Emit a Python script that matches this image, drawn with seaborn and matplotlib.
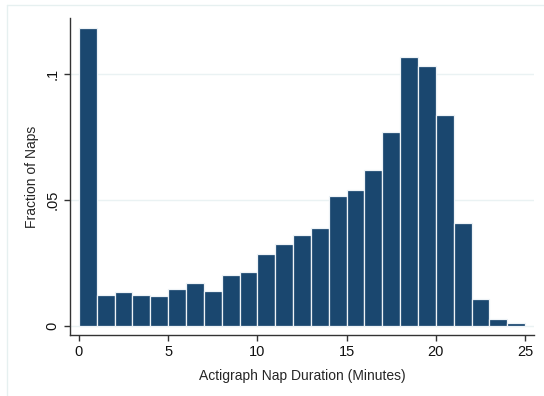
import numpy as np
import pandas as pd
import matplotlib
matplotlib.use("Agg")
import matplotlib.pyplot as plt
import seaborn as sns
from matplotlib.lines import Line2D

# histogram bins (minutes) and fraction of naps per bin
bin_start = list(range(25))
fraction = [0.1183, 0.0124, 0.0135, 0.0122, 0.0119, 0.0146, 0.0169, 0.0140,
            0.0202, 0.0213, 0.0286, 0.0324, 0.0362, 0.0389, 0.0517, 0.0538,
            0.0619, 0.0769, 0.1066, 0.1032, 0.0836, 0.0407, 0.0107, 0.0029,
            0.0011]
x_ticks = [0, 5, 10, 15, 20, 25]
y_ticks = [0, 0.05, 0.1]
y_ticklabels = ["0", ".05", ".1"]

df = pd.DataFrame({"minutes": bin_start, "fraction": fraction})

sns.set_style("white")
plt.rcParams["font.family"] = ["Liberation Sans", "DejaVu Sans"]

fig = plt.figure(figsize=(5.44, 3.96), dpi=100)
ax = fig.add_axes([0.1287, 0.154, 0.8529, 0.8005])

sns.histplot(data=df, x="minutes", weights="fraction",
             bins=list(range(26)),
             color="#1a476f", alpha=1, edgecolor="#eef3f7", linewidth=0.9,
             ax=ax, zorder=3)

ax.set_xlim(-0.5, 25.5)
ax.set_ylim(-0.0036, 0.1222)
ax.set_xticks(x_ticks)
ax.set_yticks(y_ticks)
ax.set_yticklabels(y_ticklabels, rotation=90, va="center")
ax.yaxis.grid(True, color="#eaf2f3", linewidth=1, zorder=0)
ax.set_axisbelow(True)

for s in ["top", "right"]:
    ax.spines[s].set_visible(False)
for s in ["left", "bottom"]:
    ax.spines[s].set_color("#333333")
    ax.spines[s].set_linewidth(1)
ax.tick_params(axis="both", direction="out", length=4.5, width=1,
               color="#333333", labelsize=10.5, labelcolor="#111111",
               bottom=True, left=True, pad=3)

ax.set_xlabel("Actigraph Nap Duration (Minutes)", fontsize=10, labelpad=7)
ax.set_ylabel("Fraction of Naps", fontsize=10, labelpad=5)

# faint outer graph-region border
fig.add_artist(Line2D([6.5 / 544, 1], [1 - 4.5 / 396, 1 - 4.5 / 396],
                      color="#e6f0f0", lw=1))
fig.add_artist(Line2D([6.5 / 544, 6.5 / 544], [0, 1 - 4.5 / 396],
                      color="#e6f0f0", lw=1))

fig.savefig("out.png", dpi=100)
